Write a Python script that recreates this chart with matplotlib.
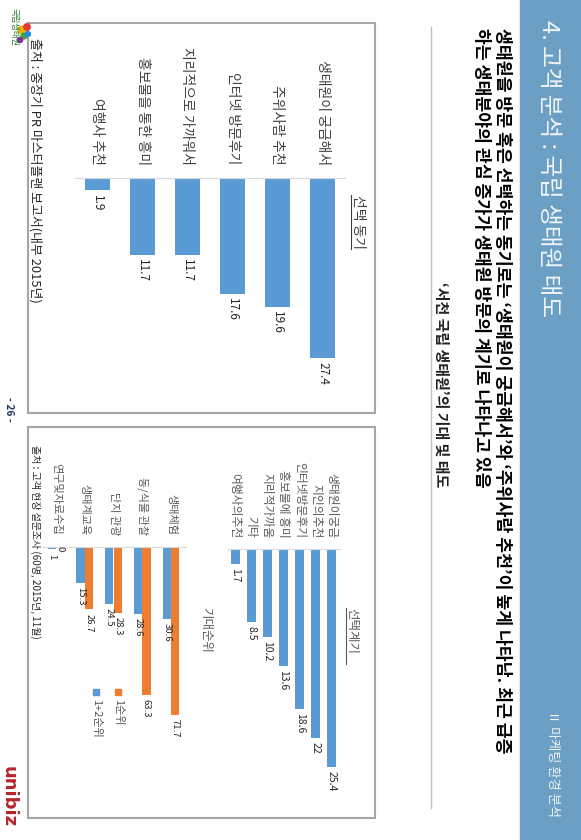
import matplotlib
matplotlib.use('Agg')
import matplotlib.pyplot as plt
from matplotlib.patches import Rectangle

plt.rcParams['font.family'] = ['Noto Sans CJK KR', 'DejaVu Sans']

W, H = 581, 840

# 선택 동기 (left panel)
motive_labels = ['생태원이 궁금해서', '주위사람 추천', '인터넷 방문후기',
                 '지리적으로 가까워서', '홍보물을 통한 흥미', '여행사 추천']
motive_values = [27.4, 19.6, 17.6, 11.7, 11.7, 1.9]

# 선택계기 (right panel, top)
trigger_labels = ['생태원이궁금', '지인의추천', '인터넷방문후기', '홍보물에 흥미',
                  '지리적가까움', '기타', '여행사의추천']
trigger_values = [25.4, 22, 18.6, 13.6, 10.2, 8.5, 1.7]

# 기대순위 (right panel, bottom)
expect_labels = ['생태체험', '동/식물 관찰', '단지 관광', '생태계교육', '연구및자료수집']
first_rank = [71.7, 63.3, 28.3, 26.7, 0]
top_two = [30.6, 28.6, 24.5, 15.3, 1]

BLUE = '#5b9bd5'
ORANGE = '#ed7d31'
GRAY = '#595959'


def rect(x0, y0, x1, y1):
    # pixel box (image coords, y down) -> figure fraction
    return [x0 / W, 1 - y1 / H, (x1 - x0) / W, (y1 - y0) / H]


def vtext(ax, x, y, s, **kw):
    kw.setdefault('ha', 'left')
    kw.setdefault('va', 'center')
    return ax.text(x, y, s, rotation=-90, rotation_mode='anchor', **kw)


fig = plt.figure(figsize=(W / 100, H / 100), dpi=100)
bg = fig.add_axes([0, 0, 1, 1])
bg.set_xlim(0, W)
bg.set_ylim(H, 0)
bg.axis('off')

# header band
bg.add_patch(Rectangle((520, 0), W - 520, H, color='#6b9fc4', zorder=0))
vtext(bg, 549, 20, '4. 고객 분석 : 국립 생태원 태도', fontsize=17, color='#f2f6fa')
vtext(bg, 553, 710, 'Ⅱ 마케팅 환경 분석', fontsize=9.5, color='#eef3f8')

# subtitle
vtext(bg, 502, 28, "생태원을 방문 혹은 선택하는 동기로는 ‘생태원이 궁금해서’와 ‘주위사람 추천’이 높게 나타남. 최근 급증",
      fontsize=12.4, fontweight='bold', color='black')
vtext(bg, 481, 28, "하는 생태분야의 관심 증가가 생태원 방문의 계기로 나타나고 있음",
      fontsize=12.4, fontweight='bold', color='black')

bg.plot([431, 431], [27, 808], color='#bfbfbf', lw=1)
vtext(bg, 441, 282, "‘서천 국립 생태원’의 기대 및 태도", fontsize=10.8, fontweight='bold', color='#222222')

# panel boxes
bg.add_patch(Rectangle((28, 23), 347, 390, fill=False, ec='#a6a6a6', lw=1.5))
bg.add_patch(Rectangle((28, 427), 347, 391, fill=False, ec='#a6a6a6', lw=1.5))

# panel captions
vtext(bg, 358, 195, '선택 동기', fontsize=10, color='#404040')
bg.plot([351, 351], [195, 249], color='#404040', lw=0.8)
vtext(bg, 352, 608, '선택계기', fontsize=9, color=GRAY)
bg.plot([346, 346], [608, 664], color=GRAY, lw=0.8)
vtext(bg, 206, 607, '기대순위', fontsize=9, color=GRAY)

# sources
vtext(bg, 35, 38, '출처 : 중장기 PR 마스터플랜 보고서(내부 2015년)', fontsize=9.3, color='#262626')
vtext(bg, 35, 445, '출처 : 고객 현장 설문조사 (60명, 2015년, 11월)', fontsize=7.2, color='#262626')

# legend for 기대순위
bg.scatter([118], [692], marker='s', s=22, color=ORANGE)
vtext(bg, 118, 699, '1순위', fontsize=8, color=GRAY)
bg.scatter([96], [692], marker='s', s=22, color=BLUE)
vtext(bg, 96, 699, '1+2순위', fontsize=8, color=GRAY)

# footer marks
vtext(bg, 9, 397, '- 26 -', fontsize=7.5, fontweight='bold', color='#1f3864')
vtext(bg, 9, 766, 'unibiz', fontsize=13, fontweight='bold', color='#b5252c', family='DejaVu Sans')
vtext(bg, 14, 8, '국립생태원', fontsize=6, color='#2e7d32')
bg.scatter([22, 27, 24, 20, 28], [30, 27, 36, 40, 34], s=[30, 22, 18, 14, 12],
           color=['#f4b400', '#e53935', '#43a047', '#8e24aa', '#1e88e5'], marker='o')


def setup(ax, labels, pad, fs, color):
    n = len(labels)
    ax.set_xlim(-0.5, n - 0.5)
    ax.xaxis.tick_top()
    ax.set_xticks(range(n - 1, -1, -1), labels, rotation=-90, fontsize=fs, color=color)
    ax.tick_params(axis='x', length=0, pad=pad)
    ax.set_yticks([])
    for side in ['left', 'right', 'bottom']:
        ax.spines[side].set_visible(False)
    ax.spines['top'].set_color('#d9d9d9')
    ax.patch.set_alpha(0)


# left chart
ax1 = fig.add_axes(rect(75, 178, 345, 178 + 30 * 6.57))
pos = [len(motive_values) - 1 - i for i in range(len(motive_values))]
b1 = ax1.bar(pos, motive_values, width=0.57, color=BLUE)
ax1.set_ylim(30, 0)
setup(ax1, motive_labels, 9.5, 10, '#404040')
ax1.bar_label(b1, padding=3, rotation=-90, fontsize=8.5, color='#262626')

# right chart top
ax2 = fig.add_axes(rect(227, 549, 340, 549 + 28 * 8.58))
pos = [len(trigger_values) - 1 - i for i in range(len(trigger_values))]
b2 = ax2.bar(pos, trigger_values, width=0.56, color=BLUE)
ax2.set_ylim(28, 0)
setup(ax2, trigger_labels, 8, 8.5, GRAY)
ax2.bar_label(b2, padding=3, rotation=-90, fontsize=7.5, color='#262626')

# right chart bottom
ax3 = fig.add_axes(rect(41.5, 547, 185.5, 547 + 80 * 2.34))
n = len(expect_labels)
pos = [n - 1 - i for i in range(n)]
w = 0.285
b3a = ax3.bar([p - w / 2 for p in pos], top_two, width=w, color=BLUE)
b3b = ax3.bar([p + w / 2 for p in pos], first_rank, width=w, color=ORANGE)
ax3.set_ylim(80, 0)
setup(ax3, expect_labels, 8.5, 8, GRAY)
ax3.bar_label(b3a, padding=3, rotation=-90, fontsize=6.8, color='#262626')
ax3.bar_label(b3b, padding=3, rotation=-90, fontsize=6.8, color='#262626')

fig.savefig('out.png', dpi=100)
